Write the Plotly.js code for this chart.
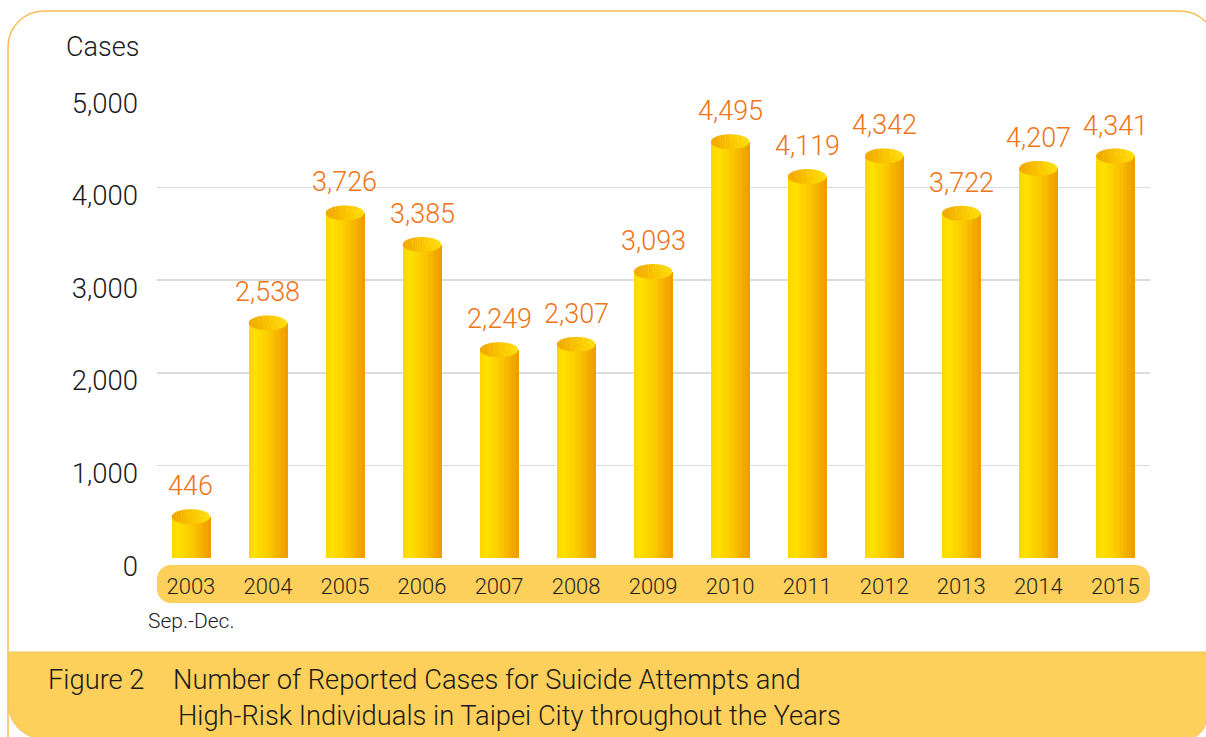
<!DOCTYPE html>
<html>
<head>
<meta charset="utf-8">
<script src="https://cdn.plot.ly/plotly-3.0.1.min.js"></script>
<style>html,body{margin:0;padding:0;background:#fff;}#chart{width:1206px;height:737px;}</style>
</head>
<body>
<div id="chart"></div>
<script>
// ---- data ----
const years = ['2003','2004','2005','2006','2007','2008','2009','2010','2011','2012','2013','2014','2015'];
const cases = [446, 2538, 3726, 3385, 2249, 2307, 3093, 4495, 4119, 4342, 3722, 4207, 4341];
const yTickVals = [0, 1000, 2000, 3000, 4000, 5000];
const yAxisTitle = 'Cases';
const periodNote = 'Sep.-Dec.';
const figureLabel = 'Figure 2';
const captionLine1 = 'Number of Reported Cases for Suicide Attempts and';
const captionLine2 = 'High-Risk Individuals in Taipei City throughout the Years';

// ---- geometry helpers ----
const FONT = 'Roboto, "Liberation Sans", sans-serif';
const L = 157, R = 56, T = 95, B = 179, WIDTH = 1206, HEIGHT = 737;
const PW = WIDTH - L - R, PH = HEIGHT - T - B;
const PX = px => (px - L) / PW;
const PY = py => (HEIGHT - B - py) / PH;
const K = 0.5523;

function rrect(x0, y0, x1, y1, r) { // r = [tl,tr,br,bl] in pixels
  const [tl, tr, br, bl] = r;
  const p = (x, y) => PX(x).toFixed(5) + ',' + PY(y).toFixed(5);
  let s = 'M' + p(x0 + tl, y0) + ' L' + p(x1 - tr, y0);
  if (tr) s += ' C' + p(x1 - tr + K * tr, y0) + ' ' + p(x1, y0 + tr - K * tr) + ' ' + p(x1, y0 + tr);
  s += ' L' + p(x1, y1 - br);
  if (br) s += ' C' + p(x1, y1 - br + K * br) + ' ' + p(x1 - br + K * br, y1) + ' ' + p(x1 - br, y1);
  s += ' L' + p(x0 + bl, y1);
  if (bl) s += ' C' + p(x0 + bl - K * bl, y1) + ' ' + p(x0, y1 - bl + K * bl) + ' ' + p(x0, y1 - bl);
  s += ' L' + p(x0, y0 + tl);
  if (tl) s += ' C' + p(x0, y0 + tl - K * tl) + ' ' + p(x0 + tl - K * tl, y0) + ' ' + p(x0 + tl, y0);
  return s + ' Z';
}
function framePath() {
  const p = (x, y) => PX(x).toFixed(5) + ',' + PY(y).toFixed(5);
  const x0 = 8, y0 = 11, x1 = 1216, r0 = 36, r1 = 36;
  return 'M' + p(x0, 745) + ' L' + p(x0, y0 + r0) +
    ' C' + p(x0, y0 + r0 - K * r0) + ' ' + p(x0 + r0 - K * r0, y0) + ' ' + p(x0 + r0, y0) +
    ' L' + p(x1 - r1, y0) +
    ' C' + p(x1 - r1 + K * r1, y0) + ' ' + p(x1, y0 + r1 - K * r1) + ' ' + p(x1, y0 + r1) +
    ' L' + p(x1, 745);
}

function lerpColor(stops, t) {
  for (let i = 1; i < stops.length; i++) {
    if (t <= stops[i][0]) {
      const [t0, c0] = stops[i - 1], [t1, c1] = stops[i];
      const u = (t - t0) / (t1 - t0);
      const c = c0.map((v, j) => Math.round(v + (c1[j] - v) * u));
      return 'rgb(' + c.join(',') + ')';
    }
  }
  const c = stops[stops.length - 1][1];
  return 'rgb(' + c.join(',') + ')';
}
const bodyStops = [[0, [252, 214, 0]], [0.18, [255, 226, 0]], [0.55, [251, 200, 0]], [1, [239, 154, 0]]];
const capStops = [[0, [240, 164, 0]], [0.5, [250, 196, 0]], [1, [255, 224, 10]]];

// ---- bars: cylinder bodies made of gradient strips ----
const xIdx = years.map((_, i) => i);
const BW = 0.5, N = 16;
const traces = [];
for (let k = 0; k < N; k++) {
  traces.push({
    type: 'bar', x: xIdx, y: cases,
    width: BW / N + 0.006, offset: -BW / 2 + k * BW / N,
    marker: { color: lerpColor(bodyStops, (k + 0.5) / N), line: { width: 0 } },
    hoverinfo: 'skip', showlegend: false
  });
}

// ---- cylinder caps (ellipses in data units) ----
const RX = BW / 2, RYpx = 7.5, RY = RYpx * 5000 / PH;
const shapes = [];
shapes.push({ type: 'path', xref: 'paper', yref: 'paper', layer: 'below', path: framePath(),
  line: { color: '#F8BD57', width: 1.5 }, fillcolor: 'rgba(0,0,0,0)' });
shapes.push({ type: 'path', xref: 'paper', yref: 'paper', layer: 'below', path: rrect(157, 565, 1150, 603, [14, 14, 14, 14]),
  line: { width: 0 }, fillcolor: '#FCD05A' });
shapes.push({ type: 'path', xref: 'paper', yref: 'paper', layer: 'below', path: rrect(8, 652, 1206, 739, [0, 0, 20, 36]),
  line: { color: '#F7C36A', width: 1 }, fillcolor: '#FCD05A' });

const NC = 16;
cases.forEach((v, i) => {
  for (let k = 0; k < NC; k++) {
    const xa = i - RX + k * 2 * RX / NC;
    const xb = Math.min(i + RX, xa + 2 * RX / NC + 0.004);
    const pts = 5, top = [], bot = [];
    for (let j = 0; j <= pts; j++) {
      const x = xa + (xb - xa) * j / pts;
      const d = Math.sqrt(Math.max(0, 1 - Math.pow((x - i) / RX, 2))) * RY;
      top.push([x, v + d]); bot.push([x, v - d]);
    }
    const all = top.concat(bot.reverse());
    const path = 'M' + all.map(p => p[0].toFixed(5) + ',' + p[1].toFixed(2)).join(' L') + ' Z';
    shapes.push({ type: 'path', xref: 'x', yref: 'y', layer: 'above', path: path,
      line: { width: 0 }, fillcolor: lerpColor(capStops, (k + 0.5) / NC) });
  }
});

// ---- annotations ----
const annotations = cases.map((v, i) => ({
  x: i, y: v + RY, xref: 'x', yref: 'y', xanchor: 'center', yanchor: 'bottom', yshift: 5,
  text: v.toLocaleString('en-US'), showarrow: false,
  font: { family: FONT, size: 27, color: '#EE7518', weight: 300 }
}));
annotations.push({ xref: 'paper', yref: 'paper', x: PX(102), y: PY(47), xanchor: 'center', yanchor: 'middle',
  text: yAxisTitle, showarrow: false, font: { family: FONT, size: 27, color: '#1a1a1a', weight: 300 } });
annotations.push({ xref: 'paper', yref: 'paper', x: PX(146), y: PY(621), xanchor: 'left', yanchor: 'middle',
  text: periodNote, showarrow: false, font: { family: FONT, size: 21, color: '#222', weight: 300 } });
annotations.push({ xref: 'paper', yref: 'paper', x: PX(46), y: PY(680), xanchor: 'left', yanchor: 'middle',
  text: figureLabel, showarrow: false, font: { family: FONT, size: 27.3, color: '#1a1a1a', weight: 300 } });
annotations.push({ xref: 'paper', yref: 'paper', x: PX(171), y: PY(680), xanchor: 'left', yanchor: 'middle',
  text: captionLine1, showarrow: false, font: { family: FONT, size: 27.3, color: '#1a1a1a', weight: 300 } });
annotations.push({ xref: 'paper', yref: 'paper', x: PX(176), y: PY(716), xanchor: 'left', yanchor: 'middle',
  text: captionLine2, showarrow: false, font: { family: FONT, size: 27.3, color: '#1a1a1a', weight: 300 } });

const layout = {
  width: WIDTH, height: HEIGHT,
  margin: { l: L, r: R, t: T, b: B, pad: 0, autoexpand: false },
  paper_bgcolor: '#ffffff', plot_bgcolor: 'rgba(0,0,0,0)',
  barmode: 'overlay', bargap: 0, showlegend: false,
  font: { family: FONT, weight: 300 },
  xaxis: {
    type: 'linear', range: [-0.44, 12.45], tickvals: xIdx, ticktext: years,
    showgrid: false, zeroline: false, showline: false, ticks: '', ticklabelstandoff: 13,
    tickfont: { family: FONT, size: 22, color: '#1f1f1f', weight: 300 }, fixedrange: true
  },
  yaxis: {
    range: [0, 5000], tickvals: yTickVals, tickformat: ',d',
    showgrid: true, gridcolor: '#DCDCDC', gridwidth: 1.5,
    zeroline: true, zerolinecolor: '#ffffff', zerolinewidth: 2,
    showline: false, ticks: '', ticklabelstandoff: 18, ticklabelshift: 8,
    tickfont: { family: FONT, size: 27.5, color: '#1a1a1a', weight: 300 }, fixedrange: true
  },
  shapes: shapes,
  annotations: annotations
};

Plotly.newPlot('chart', traces, layout, { displayModeBar: false, staticPlot: true });
</script>
</body>
</html>
